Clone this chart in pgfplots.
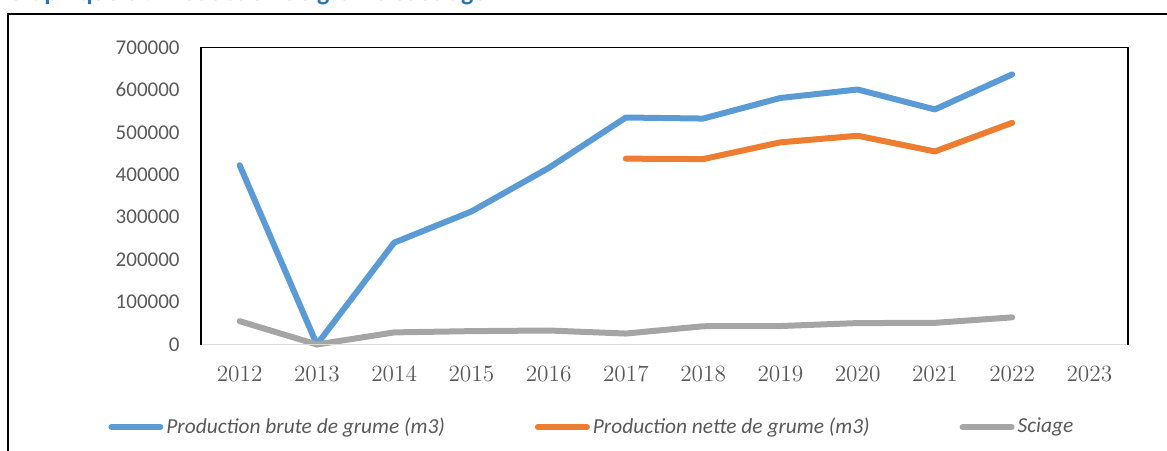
\documentclass[border=0pt]{standalone}
\usepackage{pgfplots}
\pgfplotsset{compat=1.18}
\usepackage{fontspec}
\newfontfamily\carlito{Carlito}
\definecolor{cblue}{HTML}{5B9BD5}
\definecolor{corange}{HTML}{ED7D31}
\definecolor{cgray}{HTML}{A5A5A5}
\definecolor{tickgray}{HTML}{595959}
\definecolor{titleblue}{HTML}{2E74B5}
\definecolor{axisgray}{HTML}{D9D9D9}
\begin{document}
\begin{tikzpicture}
\useasboundingbox (0pt,0pt) rectangle (583.5pt,225pt);
\clip (0pt,0pt) rectangle (583.5pt,225pt);
% outer frame (cut by the crop on the right and bottom)
\draw[line width=1pt] (4pt,-20pt) rectangle (620pt,217.75pt);
% title, mostly above the crop as in the reference
\node[anchor=base west, inner sep=0pt, text=titleblue,
      font=\carlito\bfseries\fontsize{13}{15}\selectfont] at (3pt,224.6pt)
    {Graphique 8 : Production de grume et sciage};
\begin{axis}[
    at={(100.5pt,52.75pt)}, anchor=south west,
    scale only axis,
    width=463.5pt, height=148.5pt,
    xmin=-0.5, xmax=11.5,
    ymin=0, ymax=700000,
    scaled y ticks=false,
    xtick={0,...,11},
    xticklabels={2012,2013,2014,2015,2016,2017,2018,2019,2020,2021,2022,2023},
    ytick={0,100000,200000,300000,400000,500000,600000,700000},
    yticklabels={0,100000,200000,300000,400000,500000,600000,700000},
    tick style={draw=none},
    axis line style={draw=none},
    clip=false,
    xticklabel style={inner sep=0pt, anchor=base, yshift=-18.25pt,
        text=tickgray, font=\fontsize{11.65}{14}\selectfont},
    yticklabel style={inner sep=0pt, anchor=east, xshift=-10.5pt,
        text=tickgray, font=\carlito\fontsize{10.5}{12}\selectfont},
    legend columns=3,
    legend cell align=left,
    legend image code/.code={
        \draw[#1, line cap=round] (1.5pt,0pt) -- (26pt,0pt);
    },
    legend style={
        at={(-0.1003,-0.2778)}, anchor=west,
        draw=none, fill=none, inner sep=0pt,
        nodes={inner sep=0pt},
        font=\carlito\itshape\fontsize{10.7}{12}\selectfont,
        text=tickgray,
        /tikz/every odd column/.append style={column sep=1.5pt},
        /tikz/every even column/.append style={column sep=45pt},
    },
]

\addplot[cblue, line width=3pt, line cap=round, line join=round] coordinates {
    (0,422800) (1,0) (2,240000) (3,313500) (4,416000) (5,535000)
    (6,532500) (7,581000) (8,601000) (9,554000) (10,636600)
};
\addlegendentry{Production brute de grume (m3)}

\addplot[corange, line width=3pt, line cap=round, line join=round] coordinates {
    (5,438000) (6,437000) (7,476500) (8,492000) (9,455000) (10,522500)
};
\addlegendentry{Production nette de grume (m3)}

\addplot[cgray, line width=3pt, line cap=round, line join=round] coordinates {
    (0,55000) (1,0) (2,28500) (3,31500) (4,33000) (5,25800)
    (6,43000) (7,43500) (8,50500) (9,51000) (10,64000)
};
\addlegendentry{Sciage}

% plot area border: black on three sides, light grey at the bottom
\draw[axisgray, line width=0.75pt] (rel axis cs:0,0) -- (rel axis cs:1,0);
\draw[black, line width=0.8pt] (rel axis cs:0,0) -- (rel axis cs:0,1)
    -- (rel axis cs:1,1) -- (rel axis cs:1,0);
\end{axis}
\end{tikzpicture}
\end{document}
